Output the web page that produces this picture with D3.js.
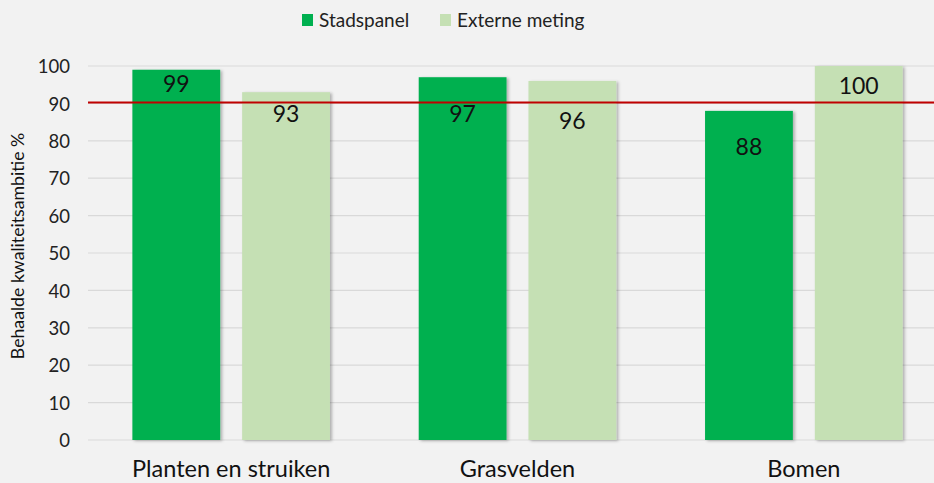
<!DOCTYPE html>
<html>
<head>
<meta charset="utf-8">
<script src="https://cdn.jsdelivr.net/npm/d3@7/dist/d3.min.js"></script>
<style>
  html, body { margin: 0; padding: 0; background: #f2f2f2; }
  svg { display: block; font-family: Lato, "Open Sans", sans-serif; }
</style>
</head>
<body>
<svg id="chart" width="934" height="483"></svg>
<script>
// Kwaliteitsambitie per beheerobject
const categories = ["Planten en struiken", "Grasvelden", "Bomen"];
const seriesNames = ["Stadspanel", "Externe meting"];
const stadspanel = [99, 97, 88];
const externeMeting = [93, 96, 100];
const yTicks = [0, 10, 20, 30, 40, 50, 60, 70, 80, 90, 100];
const norm = [90];

const colors = ["#00b050", "#c5e0b4"];
const seriesValues = [stadspanel, externeMeting];

// vertical nudge (px below the bar top) for each value label
const labelNudge = [[14, 22], [36, 40], [36, 20]];

const svg = d3.select("#chart");
const W = 934, H = 483;
const plot = { left: 88, right: 947, top: 66, bottom: 440 };

const defs = svg.append("defs");
const f = defs.append("filter").attr("id", "shadow")
  .attr("x", "-10%").attr("y", "-10%").attr("width", "130%").attr("height", "130%");
f.append("feDropShadow").attr("dx", 2).attr("dy", 1).attr("stdDeviation", 1.6)
  .attr("flood-color", "#000").attr("flood-opacity", 0.28);

const y = d3.scaleLinear().domain([0, 100]).range([plot.bottom, plot.top]);
const x0 = d3.scaleBand().domain(categories).range([plot.left, plot.right])
  .paddingInner(0.31).paddingOuter(0.155);
const x1 = d3.scaleBand().domain(seriesNames).range([0, x0.bandwidth()])
  .paddingInner(0.2).paddingOuter(0);

// gridlines
svg.append("g").selectAll("line").data(yTicks).join("line")
  .attr("x1", plot.left).attr("x2", W)
  .attr("y1", d => y(d)).attr("y2", d => y(d))
  .attr("stroke", "#d9d9d9").attr("stroke-width", 1.2);

// y axis tick labels
const yAxis = d3.axisLeft(y).tickValues(yTicks).tickSize(0).tickPadding(0);
const gy = svg.append("g").attr("transform", "translate(70,0)").call(yAxis);
gy.select(".domain").remove();
gy.selectAll("text").attr("font-size", 18.5).attr("fill", "#222")
  .attr("font-family", "Lato, sans-serif").attr("dy", "0.36em");

// bars
const groups = svg.append("g").selectAll("g").data(categories).join("g")
  .attr("transform", d => `translate(${x0(d)},0)`);

groups.selectAll("rect")
  .data((c, i) => seriesNames.map((s, j) => ({ s, j, i, v: seriesValues[j][i] })))
  .join("rect")
  .attr("x", d => x1(d.s))
  .attr("width", x1.bandwidth())
  .attr("y", d => y(d.v))
  .attr("height", d => y(0) - y(d.v))
  .attr("fill", d => colors[d.j])
  .attr("filter", "url(#shadow)");

// target line
svg.append("g").selectAll("line").data(norm).join("line")
  .attr("x1", plot.left).attr("x2", W)
  .attr("y1", d => y(d) - 1).attr("y2", d => y(d) - 1)
  .attr("stroke", "#c00000").attr("stroke-width", 2);

// value labels
groups.selectAll("text.val")
  .data((c, i) => seriesNames.map((s, j) => ({ s, j, i, v: seriesValues[j][i] })))
  .join("text").attr("class", "val")
  .attr("x", d => x1(d.s) + x1.bandwidth() / 2)
  .attr("y", d => y(d.v) + labelNudge[d.i][d.j])
  .attr("dy", "0.36em")
  .attr("text-anchor", "middle")
  .attr("font-size", 23).attr("fill", "#111")
  .text(d => d.v);

// category labels
const xAxis = d3.axisBottom(x0).tickSize(0).tickPadding(0);
const gx = svg.append("g").attr("transform", `translate(0,${plot.bottom})`).call(xAxis);
gx.select(".domain").remove();
gx.selectAll("text").attr("font-size", 23.5).attr("fill", "#111")
  .attr("font-family", "Lato, sans-serif").attr("dy", null).attr("y", 37);

// y axis title
svg.append("text")
  .attr("transform", "translate(24,246) rotate(-90)")
  .attr("text-anchor", "middle")
  .attr("font-size", 17.7).attr("fill", "#111")
  .text("Behaalde kwaliteitsambitie %");

// legend
const legend = svg.append("g");
const lx = [302, 440];
seriesNames.forEach((s, j) => {
  legend.append("rect").attr("x", lx[j]).attr("y", 14).attr("width", 11).attr("height", 12)
    .attr("fill", colors[j]);
  legend.append("text").attr("x", lx[j] + 17).attr("y", 20).attr("dy", "0.36em")
    .attr("font-size", 19).attr("fill", "#222").text(s);
});
</script>
</body>
</html>
